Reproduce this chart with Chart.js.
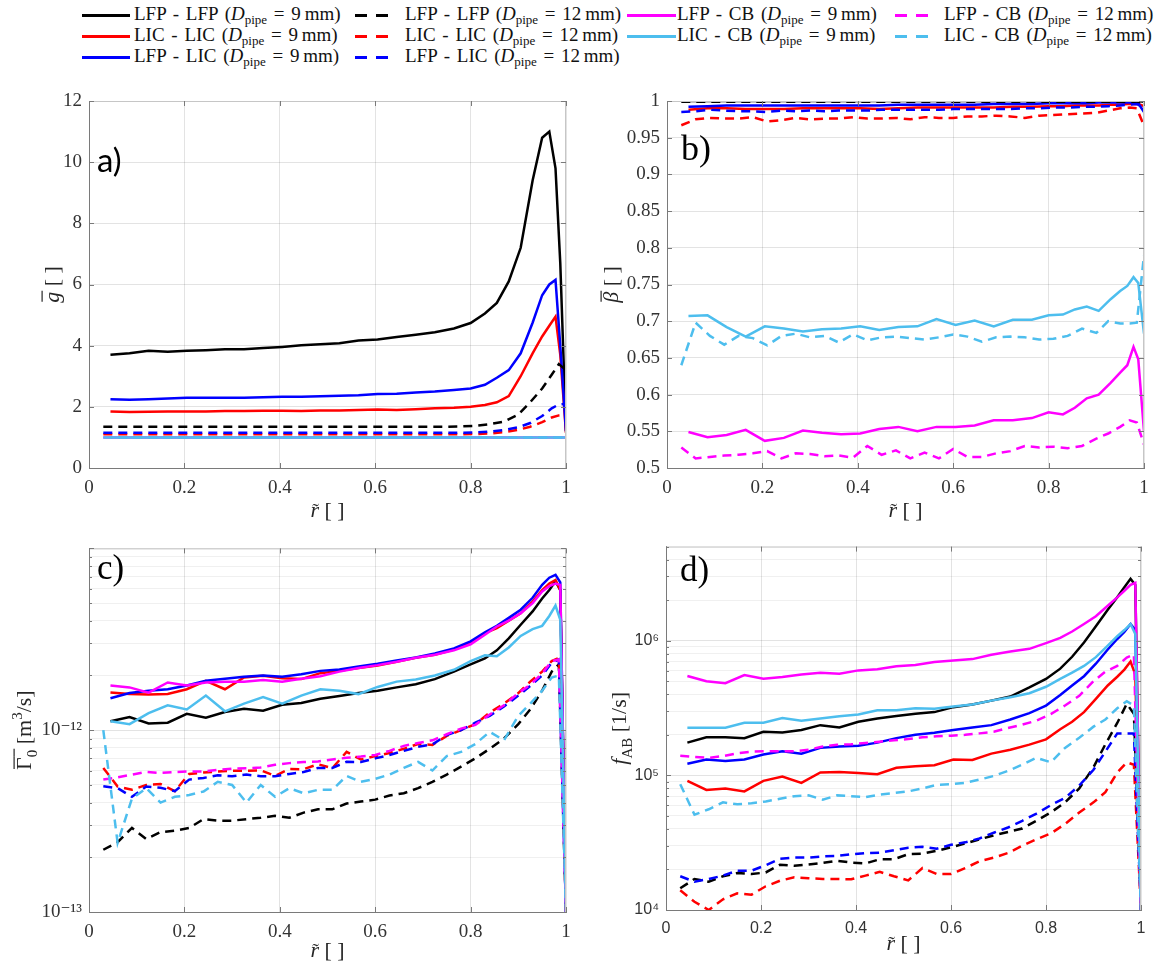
<!DOCTYPE html>
<html>
<head>
<meta charset="utf-8">
<script src="https://cdn.jsdelivr.net/npm/chart.js@4.4.1/dist/chart.umd.min.js"></script>
<style>
  html, body { margin: 0; padding: 0; background: #fff; }
  #page { position: relative; width: 1158px; height: 971px; overflow: hidden; }
  canvas { position: absolute; }
  .leg { position: absolute; font-family: 'Liberation Serif', serif; font-size: 19px; word-spacing: 2px; color: #111; white-space: nowrap; line-height: 20px; }
  .leg sub { font-size: 13px; line-height: 0; vertical-align: -4px; word-spacing: 0; }
  .smp { position: absolute; height: 3px; }
</style>
</head>
<body>
<div id="page">
  <div id="legend"></div>
  <canvas id="cA" width="580" height="450" style="left:0px;top:80px"></canvas>
  <canvas id="cB" width="578" height="450" style="left:580px;top:80px"></canvas>
  <canvas id="cC" width="580" height="441" style="left:0px;top:530px"></canvas>
  <canvas id="cD" width="578" height="441" style="left:580px;top:530px"></canvas>
</div>
<script>
// radial positions (r tilde) for the 9 mm and 12 mm pipes
const xs9 = [0.045, 0.085, 0.125, 0.165, 0.205, 0.245, 0.285, 0.325, 0.365, 0.405,
             0.445, 0.485, 0.525, 0.565, 0.605, 0.645, 0.685, 0.725, 0.765, 0.8,
             0.83, 0.855, 0.88, 0.905, 0.93, 0.95, 0.965, 0.978, 0.988, 1.0];
const xs12 = [0.03, 0.06, 0.09, 0.12, 0.15, 0.18, 0.21, 0.24, 0.27, 0.3,
              0.33, 0.36, 0.39, 0.42, 0.45, 0.48, 0.51, 0.54, 0.57, 0.6,
              0.63, 0.66, 0.69, 0.72, 0.75, 0.78, 0.81, 0.84, 0.87, 0.9,
              0.925, 0.95, 0.97, 0.985, 1.0];

const seriesNames = ['LFP - LFP', 'LIC - LIC', 'LFP - LIC', 'LFP - LFP', 'LIC - LIC',
                     'LFP - LIC', 'LFP - CB', 'LIC - CB', 'LFP - CB', 'LIC - CB'];
const seriesPipe = [9, 9, 9, 12, 12, 12, 9, 9, 12, 12];

// tick values
const rTicks = [0, 0.2, 0.4, 0.6, 0.8, 1];
const gTicks = [0, 2, 4, 6, 8, 10, 12];
const betaTicks = [0.5, 0.55, 0.6, 0.65, 0.7, 0.75, 0.8, 0.85, 0.9, 0.95, 1];
const gammaTicks = [1e-13, 2e-13, 3e-13, 4e-13, 5e-13, 6e-13, 7e-13, 8e-13, 9e-13,
                    1e-12, 2e-12, 3e-12, 4e-12, 5e-12, 6e-12, 7e-12, 8e-12, 9e-12, 1e-11];
const fabTicks = [1e4, 2e4, 3e4, 4e4, 5e4, 6e4, 7e4, 8e4, 9e4,
                  1e5, 2e5, 3e5, 4e5, 5e5, 6e5, 7e5, 8e5, 9e5,
                  1e6, 2e6, 3e6, 4e6, 5e6];

// a) mean g
const gLfpLfp9 = [3.70, 3.75, 3.83, 3.80, 3.83, 3.85, 3.88, 3.88, 3.92, 3.96,
                  4.01, 4.05, 4.08, 4.17, 4.20, 4.28, 4.36, 4.44, 4.56, 4.74,
                  5.05, 5.40, 6.10, 7.20, 9.40, 10.80, 11.00, 9.80, 6.70, 1.20];
const gLicLic9 = [1.85, 1.83, 1.84, 1.85, 1.85, 1.85, 1.86, 1.86, 1.87, 1.87,
                  1.86, 1.88, 1.88, 1.90, 1.91, 1.90, 1.92, 1.95, 1.97, 2.00,
                  2.06, 2.15, 2.35, 3.00, 3.75, 4.30, 4.65, 4.95, 3.70, 1.15];
const gLfpLic9 = [2.25, 2.23, 2.25, 2.27, 2.30, 2.30, 2.30, 2.30, 2.31, 2.33,
                  2.33, 2.35, 2.36, 2.38, 2.42, 2.43, 2.47, 2.50, 2.55, 2.60,
                  2.72, 2.95, 3.20, 3.75, 4.75, 5.65, 6.00, 6.15, 4.00, 1.20];
const gLfpLfp12 = [1.35, 1.35, 1.35, 1.35, 1.35, 1.35, 1.35, 1.35, 1.35, 1.35,
                   1.35, 1.35, 1.35, 1.35, 1.35, 1.35, 1.35, 1.35, 1.35, 1.35,
                   1.35, 1.35, 1.35, 1.35, 1.35, 1.36, 1.38, 1.43, 1.52, 1.75,
                   2.15, 2.60, 3.05, 3.40, 3.20];
const gLicLic12 = [1.10, 1.10, 1.10, 1.10, 1.10, 1.10, 1.10, 1.10, 1.10, 1.10,
                   1.10, 1.10, 1.10, 1.10, 1.10, 1.10, 1.10, 1.10, 1.10, 1.10,
                   1.10, 1.10, 1.10, 1.10, 1.10, 1.10, 1.11, 1.13, 1.17, 1.25,
                   1.35, 1.50, 1.65, 1.72, 1.75];
const gLfpLic12 = [1.15, 1.15, 1.15, 1.15, 1.15, 1.15, 1.15, 1.15, 1.15, 1.15,
                   1.15, 1.15, 1.15, 1.15, 1.15, 1.15, 1.15, 1.15, 1.15, 1.15,
                   1.15, 1.15, 1.15, 1.15, 1.15, 1.15, 1.16, 1.19, 1.24, 1.33,
                   1.47, 1.70, 1.95, 2.08, 2.10];
const gLfpCb9 = [1.0, 1.0, 1.0, 1.0, 1.0, 1.0, 1.0, 1.0, 1.0, 1.0,
                 1.0, 1.0, 1.0, 1.0, 1.0, 1.0, 1.0, 1.0, 1.0, 1.0,
                 1.0, 1.0, 1.0, 1.0, 1.0, 1.0, 1.0, 1.0, 1.0, 1.0];
const gLicCb9 = [1.0, 1.0, 1.0, 1.0, 1.0, 1.0, 1.0, 1.0, 1.0, 1.0,
                 1.0, 1.0, 1.0, 1.0, 1.0, 1.0, 1.0, 1.0, 1.0, 1.0,
                 1.0, 1.0, 1.0, 1.0, 1.0, 1.0, 1.0, 1.0, 1.0, 1.0];
const gLfpCb12 = [1.0, 1.0, 1.0, 1.0, 1.0, 1.0, 1.0, 1.0, 1.0, 1.0,
                  1.0, 1.0, 1.0, 1.0, 1.0, 1.0, 1.0, 1.0, 1.0, 1.0,
                  1.0, 1.0, 1.0, 1.0, 1.0, 1.0, 1.0, 1.0, 1.0, 1.0,
                  1.0, 1.0, 1.0, 1.0, 1.0];
const gLicCb12 = [1.0, 1.0, 1.0, 1.0, 1.0, 1.0, 1.0, 1.0, 1.0, 1.0,
                  1.0, 1.0, 1.0, 1.0, 1.0, 1.0, 1.0, 1.0, 1.0, 1.0,
                  1.0, 1.0, 1.0, 1.0, 1.0, 1.0, 1.0, 1.0, 1.0, 1.0,
                  1.0, 1.0, 1.0, 1.0, 1.0];

// b) mean beta
const bLfpLfp9 = [1.0, 1.0, 1.0, 1.0, 1.0, 1.0, 1.0, 1.0, 1.0, 1.0,
                  1.0, 1.0, 1.0, 1.0, 1.0, 1.0, 1.0, 1.0, 1.0, 1.0,
                  1.0, 1.0, 1.0, 1.0, 1.0, 1.0, 1.0, 1.0, 1.0, 0.999];
const bLicLic9 = [0.988, 0.990, 0.990, 0.989, 0.989, 0.989, 0.990, 0.990, 0.990, 0.990,
                  0.989, 0.990, 0.991, 0.991, 0.991, 0.991, 0.991, 0.992, 0.992, 0.993,
                  0.993, 0.994, 0.994, 0.994, 0.995, 0.995, 0.996, 0.996, 0.996, 0.993];
const bLfpLic9 = [0.992, 0.993, 0.994, 0.994, 0.994, 0.994, 0.994, 0.994, 0.994, 0.994,
                  0.994, 0.995, 0.995, 0.995, 0.995, 0.995, 0.996, 0.996, 0.996, 0.997,
                  0.997, 0.997, 0.997, 0.998, 0.998, 0.998, 0.998, 0.998, 0.997, 0.985];
const bLfpLfp12 = [0.999, 0.999, 0.999, 0.999, 0.999, 0.999, 0.999, 0.999, 0.999, 0.999,
                   0.999, 0.999, 0.999, 0.999, 0.999, 0.999, 0.999, 0.999, 0.999, 0.999,
                   0.999, 0.999, 0.999, 0.999, 0.999, 0.999, 0.999, 0.999, 0.999, 0.999,
                   0.999, 0.999, 0.999, 0.999, 0.998];
const bLicLic12 = [0.967, 0.975, 0.977, 0.976, 0.976, 0.978, 0.972, 0.974, 0.977, 0.975,
                   0.976, 0.976, 0.978, 0.976, 0.976, 0.977, 0.975, 0.978, 0.977, 0.977,
                   0.979, 0.979, 0.980, 0.979, 0.977, 0.980, 0.981, 0.982, 0.983, 0.984,
                   0.987, 0.990, 0.991, 0.990, 0.966];
const bLfpLic12 = [0.985, 0.986, 0.988, 0.987, 0.986, 0.986, 0.985, 0.987, 0.986, 0.987,
                   0.986, 0.987, 0.987, 0.987, 0.988, 0.988, 0.988, 0.988, 0.988, 0.989,
                   0.989, 0.989, 0.989, 0.989, 0.990, 0.990, 0.991, 0.991, 0.992, 0.992,
                   0.993, 0.994, 0.995, 0.996, 0.990];
const bLfpCb9 = [0.549, 0.542, 0.545, 0.552, 0.537, 0.541, 0.551, 0.548, 0.546, 0.547,
                 0.553, 0.556, 0.550, 0.556, 0.556, 0.558, 0.565, 0.565, 0.568, 0.576,
                 0.573, 0.582, 0.595, 0.600, 0.616, 0.630, 0.640, 0.665, 0.648, 0.550];
const bLicCb9 = [0.707, 0.708, 0.692, 0.679, 0.693, 0.690, 0.686, 0.689, 0.690, 0.693,
                 0.688, 0.692, 0.693, 0.703, 0.695, 0.701, 0.693, 0.702, 0.702, 0.708,
                 0.709, 0.716, 0.720, 0.714, 0.730, 0.741, 0.748, 0.760, 0.752, 0.683];
const bLfpCb12 = [0.528, 0.513, 0.515, 0.517, 0.518, 0.520, 0.523, 0.513, 0.520, 0.519,
                  0.516, 0.517, 0.514, 0.530, 0.518, 0.524, 0.513, 0.521, 0.513, 0.526,
                  0.515, 0.515, 0.520, 0.523, 0.530, 0.528, 0.529, 0.527, 0.530, 0.540,
                  0.547, 0.556, 0.565, 0.562, 0.532];
const bLicCb12 = [0.640, 0.698, 0.680, 0.668, 0.680, 0.677, 0.667, 0.680, 0.683, 0.678,
                  0.680, 0.671, 0.682, 0.674, 0.678, 0.679, 0.677, 0.675, 0.678, 0.682,
                  0.679, 0.672, 0.678, 0.679, 0.678, 0.675, 0.676, 0.680, 0.690, 0.684,
                  0.700, 0.697, 0.697, 0.698, 0.790];

// c) mean Gamma_0 [m^3/s]
const cLfpLfp9 = [1.12e-12, 1.18e-12, 1.09e-12, 1.10e-12, 1.23e-12, 1.17e-12, 1.26e-12, 1.31e-12, 1.28e-12, 1.38e-12,
                  1.41e-12, 1.49e-12, 1.54e-12, 1.60e-12, 1.65e-12, 1.72e-12, 1.79e-12, 1.91e-12, 2.10e-12, 2.30e-12,
                  2.48e-12, 2.75e-12, 3.20e-12, 3.80e-12, 4.50e-12, 5.30e-12, 5.90e-12, 6.60e-12, 5.90e-12, 1.0e-13];
const cLicLic9 = [1.61e-12, 1.58e-12, 1.57e-12, 1.58e-12, 1.68e-12, 1.87e-12, 1.68e-12, 1.95e-12, 1.99e-12, 1.93e-12,
                  1.91e-12, 2.06e-12, 2.12e-12, 2.20e-12, 2.27e-12, 2.38e-12, 2.50e-12, 2.60e-12, 2.78e-12, 3.03e-12,
                  3.42e-12, 3.64e-12, 4.00e-12, 4.40e-12, 5.10e-12, 5.90e-12, 6.40e-12, 6.70e-12, 5.90e-12, 1.0e-13];
const cLfpLic9 = [1.50e-12, 1.60e-12, 1.65e-12, 1.68e-12, 1.76e-12, 1.87e-12, 1.92e-12, 1.97e-12, 2.00e-12, 1.97e-12,
                  2.03e-12, 2.12e-12, 2.16e-12, 2.24e-12, 2.32e-12, 2.42e-12, 2.51e-12, 2.64e-12, 2.82e-12, 3.08e-12,
                  3.45e-12, 3.75e-12, 4.15e-12, 4.60e-12, 5.35e-12, 6.30e-12, 6.90e-12, 7.15e-12, 6.50e-12, 1.0e-13];
const cLfpLfp12 = [2.20e-13, 2.42e-13, 2.90e-13, 2.52e-13, 2.75e-13, 2.80e-13, 2.90e-13, 3.24e-13, 3.18e-13, 3.18e-13,
                   3.24e-13, 3.30e-13, 3.38e-13, 3.30e-13, 3.52e-13, 3.67e-13, 3.67e-13, 3.95e-13, 4.05e-13, 4.15e-13,
                   4.37e-13, 4.50e-13, 4.80e-13, 5.20e-13, 5.70e-13, 6.30e-13, 7.00e-13, 7.90e-13, 9.00e-13, 1.08e-12,
                   1.30e-12, 1.65e-12, 2.10e-12, 2.30e-12, 1.0e-13];
const cLicLic12 = [6.20e-13, 4.90e-13, 4.70e-13, 5.00e-13, 5.06e-13, 4.62e-13, 5.75e-13, 5.85e-13, 5.93e-13, 5.98e-13,
                   5.98e-13, 6.02e-13, 5.60e-13, 6.12e-13, 6.10e-13, 6.50e-13, 6.18e-13, 7.60e-13, 6.90e-13, 7.20e-13,
                   7.50e-13, 7.90e-13, 8.40e-13, 8.30e-13, 9.30e-13, 1.00e-12, 1.08e-12, 1.25e-12, 1.40e-12, 1.60e-12,
                   1.85e-12, 2.10e-12, 2.40e-12, 2.50e-12, 1.0e-13];
const cLfpLic12 = [4.92e-13, 4.80e-13, 4.30e-13, 4.90e-13, 4.82e-13, 4.62e-13, 5.35e-13, 5.46e-13, 5.65e-13, 5.58e-13,
                   5.70e-13, 5.58e-13, 5.58e-13, 5.75e-13, 5.89e-13, 6.20e-13, 6.20e-13, 6.70e-13, 6.68e-13, 7.00e-13,
                   7.30e-13, 7.70e-13, 8.10e-13, 8.35e-13, 9.40e-13, 1.00e-12, 1.10e-12, 1.20e-12, 1.35e-12, 1.55e-12,
                   1.75e-12, 2.00e-12, 2.35e-12, 2.45e-12, 1.0e-13];
const cLfpCb9 = [1.76e-12, 1.72e-12, 1.61e-12, 1.83e-12, 1.76e-12, 1.83e-12, 1.85e-12, 1.85e-12, 1.89e-12, 1.85e-12,
                 1.92e-12, 1.98e-12, 2.10e-12, 2.20e-12, 2.28e-12, 2.38e-12, 2.50e-12, 2.60e-12, 2.75e-12, 2.97e-12,
                 3.35e-12, 3.72e-12, 4.00e-12, 4.40e-12, 5.00e-12, 5.80e-12, 6.20e-12, 6.40e-12, 6.30e-12, 1.0e-13];
const cLicCb9 = [1.12e-12, 1.08e-12, 1.24e-12, 1.37e-12, 1.30e-12, 1.55e-12, 1.27e-12, 1.40e-12, 1.52e-12, 1.40e-12,
                 1.55e-12, 1.68e-12, 1.65e-12, 1.58e-12, 1.73e-12, 1.85e-12, 1.90e-12, 2.00e-12, 2.15e-12, 2.40e-12,
                 2.58e-12, 2.55e-12, 2.85e-12, 3.30e-12, 3.60e-12, 3.75e-12, 4.25e-12, 4.85e-12, 4.05e-12, 1.0e-13];
const cLfpCb12 = [5.35e-13, 5.50e-13, 5.70e-13, 5.90e-13, 5.82e-13, 5.89e-13, 5.93e-13, 5.93e-13, 6.05e-13, 6.14e-13,
                  6.18e-13, 6.24e-13, 6.45e-13, 6.59e-13, 6.68e-13, 6.73e-13, 6.90e-13, 7.05e-13, 7.16e-13, 7.31e-13,
                  7.70e-13, 8.20e-13, 8.50e-13, 8.80e-13, 9.50e-13, 1.02e-12, 1.07e-12, 1.22e-12, 1.37e-12, 1.60e-12,
                  1.78e-12, 2.05e-12, 2.40e-12, 2.45e-12, 1.0e-13];
const cLicCb12 = [1.00e-12, 2.40e-13, 4.20e-13, 4.80e-13, 4.00e-13, 4.30e-13, 4.40e-13, 4.60e-13, 5.20e-13, 5.00e-13,
                  4.00e-13, 5.00e-13, 4.30e-13, 4.80e-13, 4.50e-13, 4.70e-13, 4.70e-13, 5.60e-13, 5.20e-13, 5.40e-13,
                  5.70e-13, 6.20e-13, 6.70e-13, 6.00e-13, 7.20e-13, 7.60e-13, 8.40e-13, 9.80e-13, 8.80e-13, 1.20e-12,
                  1.40e-12, 1.65e-12, 1.95e-12, 2.00e-12, 1.0e-13];

// d) f_AB [1/s]
const dLfpLfp9 = [1.75e5, 1.92e5, 1.92e5, 1.89e5, 2.11e5, 2.08e5, 2.17e5, 2.36e5, 2.27e5, 2.50e5,
                  2.64e5, 2.76e5, 2.87e5, 2.95e5, 3.21e5, 3.36e5, 3.59e5, 3.85e5, 4.50e5, 5.20e5,
                  6.20e5, 7.60e5, 9.70e5, 1.28e6, 1.70e6, 2.10e6, 2.50e6, 2.88e6, 2.60e6, 1.0e4];
const dLicLic9 = [9.1e4, 7.8e4, 8.0e4, 7.6e4, 9.1e4, 9.8e4, 8.8e4, 1.05e5, 1.06e5, 1.04e5,
                  1.02e5, 1.14e5, 1.17e5, 1.19e5, 1.31e5, 1.30e5, 1.45e5, 1.55e5, 1.69e5, 1.85e5,
                  2.20e5, 2.50e5, 2.95e5, 3.70e5, 4.65e5, 5.40e5, 6.10e5, 7.00e5, 5.60e5, 1.0e4];
const dLfpLic9 = [1.22e5, 1.31e5, 1.28e5, 1.31e5, 1.43e5, 1.51e5, 1.45e5, 1.60e5, 1.64e5, 1.66e5,
                  1.75e5, 1.89e5, 2.00e5, 2.07e5, 2.17e5, 2.27e5, 2.36e5, 2.60e5, 2.90e5, 3.30e5,
                  3.95e5, 4.65e5, 5.45e5, 6.75e5, 8.60e5, 1.03e6, 1.16e6, 1.33e6, 1.20e6, 1.0e4];
const dLfpLfp12 = [1.45e4, 1.70e4, 1.62e4, 1.78e4, 1.88e4, 1.85e4, 1.90e4, 2.17e4, 2.13e4, 2.18e4,
                   2.24e4, 2.32e4, 2.25e4, 2.22e4, 2.38e4, 2.38e4, 2.60e4, 2.62e4, 2.75e4, 2.92e4,
                   3.12e4, 3.35e4, 3.58e4, 3.80e4, 4.03e4, 4.60e4, 5.30e4, 6.30e4, 8.00e4, 1.15e5,
                   1.70e5, 2.45e5, 3.40e5, 2.87e5, 1.0e4];
const dLicLic12 = [1.40e4, 1.15e4, 1.00e4, 1.20e4, 1.33e4, 1.30e4, 1.50e4, 1.65e4, 1.75e4, 1.72e4,
                   1.70e4, 1.70e4, 1.69e4, 1.80e4, 1.92e4, 1.78e4, 1.66e4, 2.05e4, 1.85e4, 1.85e4,
                   2.05e4, 2.30e4, 2.45e4, 2.65e4, 3.00e4, 3.35e4, 3.70e4, 4.35e4, 5.30e4, 6.30e4,
                   7.50e4, 1.05e5, 1.25e5, 1.20e5, 1.0e4];
const dLfpLic12 = [1.78e4, 1.62e4, 1.70e4, 1.80e4, 1.96e4, 1.96e4, 2.15e4, 2.40e4, 2.45e4, 2.45e4,
                   2.50e4, 2.52e4, 2.60e4, 2.64e4, 2.66e4, 2.78e4, 2.90e4, 2.95e4, 2.85e4, 3.05e4,
                   3.18e4, 3.40e4, 3.75e4, 4.10e4, 4.60e4, 5.20e4, 6.00e4, 6.80e4, 8.40e4, 1.10e5,
                   1.50e5, 2.05e5, 2.05e5, 2.05e5, 1.0e4];
const dLfpCb9 = [5.47e5, 5.00e5, 4.83e5, 5.56e5, 5.22e5, 5.37e5, 5.62e5, 5.78e5, 5.69e5, 6.02e5,
                 6.15e5, 6.46e5, 6.60e5, 6.95e5, 7.12e5, 7.30e5, 7.87e5, 8.30e5, 8.70e5, 9.60e5,
                 1.05e6, 1.17e6, 1.33e6, 1.52e6, 1.82e6, 2.10e6, 2.35e6, 2.60e6, 2.69e6, 1.0e4];
const dLicCb9 = [2.26e5, 2.26e5, 2.26e5, 2.46e5, 2.46e5, 2.67e5, 2.54e5, 2.64e5, 2.75e5, 2.83e5,
                 3.04e5, 3.04e5, 3.15e5, 3.13e5, 3.25e5, 3.36e5, 3.59e5, 3.80e5, 4.07e5, 4.55e5,
                 5.20e5, 5.80e5, 6.50e5, 7.55e5, 9.20e5, 1.08e6, 1.20e6, 1.33e6, 1.12e6, 1.0e4];
const dLfpCb12 = [1.40e5, 1.37e5, 1.35e5, 1.39e5, 1.46e5, 1.50e5, 1.51e5, 1.51e5, 1.51e5, 1.55e5,
                  1.64e5, 1.69e5, 1.70e5, 1.74e5, 1.78e5, 1.82e5, 1.86e5, 1.92e5, 1.95e5, 1.97e5,
                  2.00e5, 2.05e5, 2.11e5, 2.25e5, 2.38e5, 2.55e5, 2.85e5, 3.30e5, 3.90e5, 5.00e5,
                  5.90e5, 6.50e5, 7.50e5, 7.90e5, 1.0e4];
const dLicCb12 = [8.6e4, 5.1e4, 5.6e4, 6.3e4, 6.1e4, 6.2e4, 6.4e4, 6.7e4, 7.0e4, 7.1e4,
                  6.6e4, 7.1e4, 7.0e4, 6.9e4, 7.2e4, 7.4e4, 7.6e4, 8.0e4, 8.5e4, 8.6e4,
                  8.8e4, 9.3e4, 9.9e4, 1.08e5, 1.20e5, 1.35e5, 1.25e5, 1.60e5, 1.90e5, 2.30e5,
                  2.60e5, 3.15e5, 3.55e5, 3.30e5, 1.0e4];

// line styles, same order as seriesNames; drawRank: higher = drawn on top
const lineStyles = [
  { color: '#000000', dash: false }, { color: '#ff0000', dash: false }, { color: '#0000ff', dash: false },
  { color: '#000000', dash: true },  { color: '#ff0000', dash: true },  { color: '#0000ff', dash: true },
  { color: '#ff00ff', dash: false }, { color: '#4dbeee', dash: false },
  { color: '#ff00ff', dash: true },  { color: '#4dbeee', dash: true }
];
const drawRank = [0, 1, 2, 3, 4, 5, 7, 9, 6, 8];

const SERIF = "'Liberation Serif', 'DejaVu Serif', serif";
const SANS = "'Liberation Sans', Arial, sans-serif";
Chart.defaults.font.family = SERIF;
Chart.defaults.font.size = 19;
Chart.defaults.color = '#333';

const supMap = { '-': '\u207B', '0': '\u2070', '1': '\u00B9', '2': '\u00B2', '3': '\u00B3',
                 '4': '\u2074', '5': '\u2075', '6': '\u2076', '7': '\u2077', '8': '\u2078', '9': '\u2079' };

const isPow10 = v => Math.abs(Math.log10(v) - Math.round(Math.log10(v))) < 1e-6;
const fmt = v => String(parseFloat(Number(v).toFixed(3)));
const pow10Label = v => {
  const e = String(Math.round(Math.log10(v)));
  return '10' + e.split('').map(c => supMap[c]).join('');
};

// --- legend (html) ---
const legCols = [{ s: 82, w: 48, t: 134 }, { s: 355, w: 33, t: 405 }, { s: 627, w: 49, t: 677 }, { s: 895, w: 33, t: 944 }];
const legRows = [15, 36, 57];
const legendEl = document.getElementById('legend');
seriesNames.forEach((name, i) => {
  const col = i < 3 ? 0 : i < 6 ? 1 : i < 8 ? 2 : 3;
  const row = i < 3 ? i : i < 6 ? i - 3 : i < 8 ? i - 6 : i - 8;
  const st = lineStyles[i];
  const c = legCols[col], y = legRows[row];
  const smp = document.createElement('div');
  smp.className = 'smp';
  smp.style.left = c.s + 'px';
  smp.style.top = (y - 1) + 'px';
  smp.style.width = c.w + 'px';
  smp.style.background = st.dash
    ? `repeating-linear-gradient(90deg, ${st.color} 0 12px, transparent 12px 21px)`
    : st.color;
  legendEl.appendChild(smp);
  const txt = document.createElement('div');
  txt.className = 'leg';
  txt.style.left = c.t + 'px';
  txt.style.top = (y - 11) + 'px';
  txt.innerHTML = `${name} (<i>D</i><sub>pipe</sub> = ${seriesPipe[i]}\u2009mm)`;
  legendEl.appendChild(txt);
});

// --- rich text for axis titles (overline, tilde, sub/superscripts) ---
function drawRich(ctx, segs, cx, cy, angle, size) {
  ctx.save();
  ctx.translate(cx, cy);
  ctx.rotate(angle);
  const fontFor = s => (s.it ? 'italic ' : '') + Math.round((s.sub || s.sup) ? size * 0.7 : size) + 'px ' + SERIF;
  let w = 0;
  const widths = segs.map(s => { ctx.font = fontFor(s); const m = ctx.measureText(s.t).width; w += m; return m; });
  let x = -w / 2;
  const base = size * 0.33;
  ctx.fillStyle = '#262626';
  ctx.strokeStyle = '#262626';
  ctx.textBaseline = 'alphabetic';
  ctx.textAlign = 'left';
  segs.forEach((s, k) => {
    ctx.font = fontFor(s);
    const y = base + (s.sub ? size * 0.25 : s.sup ? -size * 0.4 : 0);
    ctx.fillText(s.t, x, y);
    if (s.over) {
      ctx.lineWidth = 1.2;
      ctx.beginPath();
      ctx.moveTo(x + 1, base - size * 0.78);
      ctx.lineTo(x + widths[k] + 1, base - size * 0.78);
      ctx.stroke();
    }
    if (s.tilde) {
      ctx.font = Math.round(size * 0.9) + 'px ' + SERIF;
      ctx.textAlign = 'center';
      ctx.fillText('\u02DC', x + widths[k] / 2 + 1, base + size * 0.02);
      ctx.textAlign = 'left';
    }
    x += widths[k];
  });
  ctx.restore();
}

const figPlugin = {
  id: 'fig',
  afterDraw(chart, args, o) {
    const { ctx, chartArea: a } = chart;
    const sx = chart.scales.x, sy = chart.scales.y;
    ctx.save();
    // box top / right
    ctx.strokeStyle = '#c6c6c6';
    ctx.lineWidth = 1;
    ctx.beginPath();
    ctx.moveTo(a.left, a.top + 0.5); ctx.lineTo(a.right, a.top + 0.5);
    ctx.moveTo(a.right - 0.5, a.top); ctx.lineTo(a.right - 0.5, a.bottom);
    ctx.stroke();
    // inward tick marks
    ctx.strokeStyle = '#7a7a7a';
    ctx.beginPath();
    sx.ticks.forEach(t => {
      const p = Math.round(sx.getPixelForValue(t.value)) + 0.5;
      ctx.moveTo(p, a.bottom); ctx.lineTo(p, a.bottom - 5);
      ctx.moveTo(p, a.top); ctx.lineTo(p, a.top + 5);
    });
    sy.ticks.forEach(t => {
      const p = Math.round(sy.getPixelForValue(t.value)) + 0.5;
      const L = (o.log && !isPow10(t.value)) ? 3 : 5;
      ctx.moveTo(a.left, p); ctx.lineTo(a.left + L, p);
      ctx.moveTo(a.right, p); ctx.lineTo(a.right - L, p);
    });
    ctx.stroke();
    // axis titles
    drawRich(ctx, o.xTitle, (a.left + a.right) / 2, o.xTitleY, 0, 22);
    drawRich(ctx, o.yTitle, o.yTitleX, (a.top + a.bottom) / 2, -Math.PI / 2, 22);
    // panel label
    ctx.font = o.labelFont;
    ctx.fillStyle = '#000';
    ctx.textAlign = 'left';
    ctx.textBaseline = 'alphabetic';
    ctx.fillText(o.label, o.labelX, o.labelY);
    ctx.restore();
  }
};

function makeSets(list) {
  return list.map((ys, i) => {
    const st = lineStyles[i];
    const xs = st.dash ? xs12 : xs9;
    return {
      label: seriesNames[i] + ' ' + seriesPipe[i] + ' mm',
      data: ys.map((y, k) => ({ x: xs[k], y })),
      borderColor: st.color,
      backgroundColor: st.color,
      borderWidth: 2.5,
      borderDash: st.dash ? [9, 6] : [],
      pointRadius: 0,
      tension: 0,
      fill: false,
      order: -drawRank[i]
    };
  });
}

const xTitle = [{ t: 'r', it: true, tilde: true }, { t: ' [ ]' }];
const gridMinor = 'rgba(0,0,0,0.06)';
const gridMajor = 'rgba(0,0,0,0.11)';

function makeChart(p) {
  const tickFont = { family: p.sans ? SANS : SERIF, size: p.sans ? 16 : 19 };
  return new Chart(document.getElementById(p.id), {
    type: 'line',
    data: { datasets: makeSets(p.series) },
    options: {
      responsive: false,
      animation: false,
      devicePixelRatio: 1,
      events: [],
      layout: { padding: { left: 0, right: p.padR, top: p.padT, bottom: 0 }, autoPadding: false },
      plugins: {
        legend: { display: false },
        tooltip: { enabled: false },
        fig: {
          xTitle, yTitle: p.yTitle, xTitleY: p.xTitleY, yTitleX: p.yTitleX, log: p.log,
          label: p.label, labelFont: p.labelFont, labelX: p.labelX, labelY: p.labelY
        }
      },
      scales: {
        x: {
          type: 'linear', min: 0, max: 1,
          afterBuildTicks: s => { s.ticks = rTicks.map(v => ({ value: v })); },
          afterFit: s => { s.height = p.xH; },
          ticks: { font: tickFont, color: '#333', padding: 9, autoSkip: false, maxRotation: 0, callback: v => fmt(v) },
          grid: { color: gridMajor, drawTicks: false },
          border: { color: '#7a7a7a', width: 1 }
        },
        y: {
          type: p.log ? 'logarithmic' : 'linear', min: p.yMin, max: p.yMax,
          afterBuildTicks: s => { s.ticks = p.yTicks.map(v => ({ value: v })); },
          afterFit: s => { s.width = p.yW; },
          ticks: {
            font: tickFont, color: '#333', padding: 7, autoSkip: false,
            callback: v => p.log ? ((isPow10(v) && v < p.yMax * 0.99) ? pow10Label(v) : '') : fmt(v)
          },
          grid: { color: c => (p.log && c.tick && !isPow10(c.tick.value)) ? gridMinor : gridMajor, drawTicks: false },
          border: { color: '#7a7a7a', width: 1 }
        }
      }
    },
    plugins: [figPlugin]
  });
}

const charts = [
  makeChart({
    id: 'cA', yW: 89, padR: 14, padT: 21, xH: 62, yMin: 0, yMax: 12, yTicks: gTicks, log: false,
    series: [gLfpLfp9, gLicLic9, gLfpLic9, gLfpLfp12, gLicLic12, gLfpLic12, gLfpCb9, gLicCb9, gLfpCb12, gLicCb12],
    yTitle: [{ t: 'g', it: true, over: true }, { t: ' [ ]' }], xTitleY: 430, yTitleX: 52,
    label: 'a)', labelFont: "33px Lato, 'Open Sans', sans-serif", labelX: 97, labelY: 92
  }),
  makeChart({
    id: 'cB', yW: 87, padR: 14, padT: 21, xH: 62, yMin: 0.5, yMax: 1, yTicks: betaTicks, log: false,
    series: [bLfpLfp9, bLicLic9, bLfpLic9, bLfpLfp12, bLicLic12, bLfpLic12, bLfpCb9, bLicCb9, bLfpCb12, bLicCb12],
    yTitle: [{ t: '\u03B2', it: true, over: true }, { t: ' [ ]' }], xTitleY: 430, yTitleX: 31,
    label: 'b)', labelFont: '36px ' + SERIF, labelX: 101, labelY: 80
  }),
  makeChart({
    id: 'cC', yW: 89, padR: 14, padT: 14, xH: 59, yMin: 1e-13, yMax: 1e-11, yTicks: gammaTicks, log: true,
    series: [cLfpLfp9, cLicLic9, cLfpLic9, cLfpLfp12, cLicLic12, cLfpLic12, cLfpCb9, cLicCb9, cLfpCb12, cLicCb12],
    yTitle: [{ t: '\u0393', over: true }, { t: '0', sub: true, over: true }, { t: ' [m' }, { t: '3', sup: true }, { t: '/s]' }],
    xTitleY: 420, yTitleX: 24,
    label: 'c)', labelFont: '35px ' + SERIF, labelX: 97, labelY: 49
  }),
  makeChart({
    id: 'cD', yW: 86, padR: 17, padT: 7, xH: 61, yMin: 1e4, yMax: 5e6, yTicks: fabTicks, log: true, sans: true,
    series: [dLfpLfp9, dLicLic9, dLfpLic9, dLfpLfp12, dLicLic12, dLfpLic12, dLfpCb9, dLicCb9, dLfpCb12, dLicCb12],
    yTitle: [{ t: 'f', it: true }, { t: 'AB', sub: true }, { t: ' [1/s]' }],
    xTitleY: 413, yTitleX: 39,
    label: 'd)', labelFont: '35px ' + SERIF, labelX: 100, labelY: 51
  })
];

// system fonts can resolve late for canvas text: redraw once they are in
const redraw = () => charts.forEach(c => c.update('none'));
setTimeout(redraw, 150);
setTimeout(redraw, 500);
window.addEventListener('load', () => setTimeout(redraw, 50));
</script>
</body>
</html>
